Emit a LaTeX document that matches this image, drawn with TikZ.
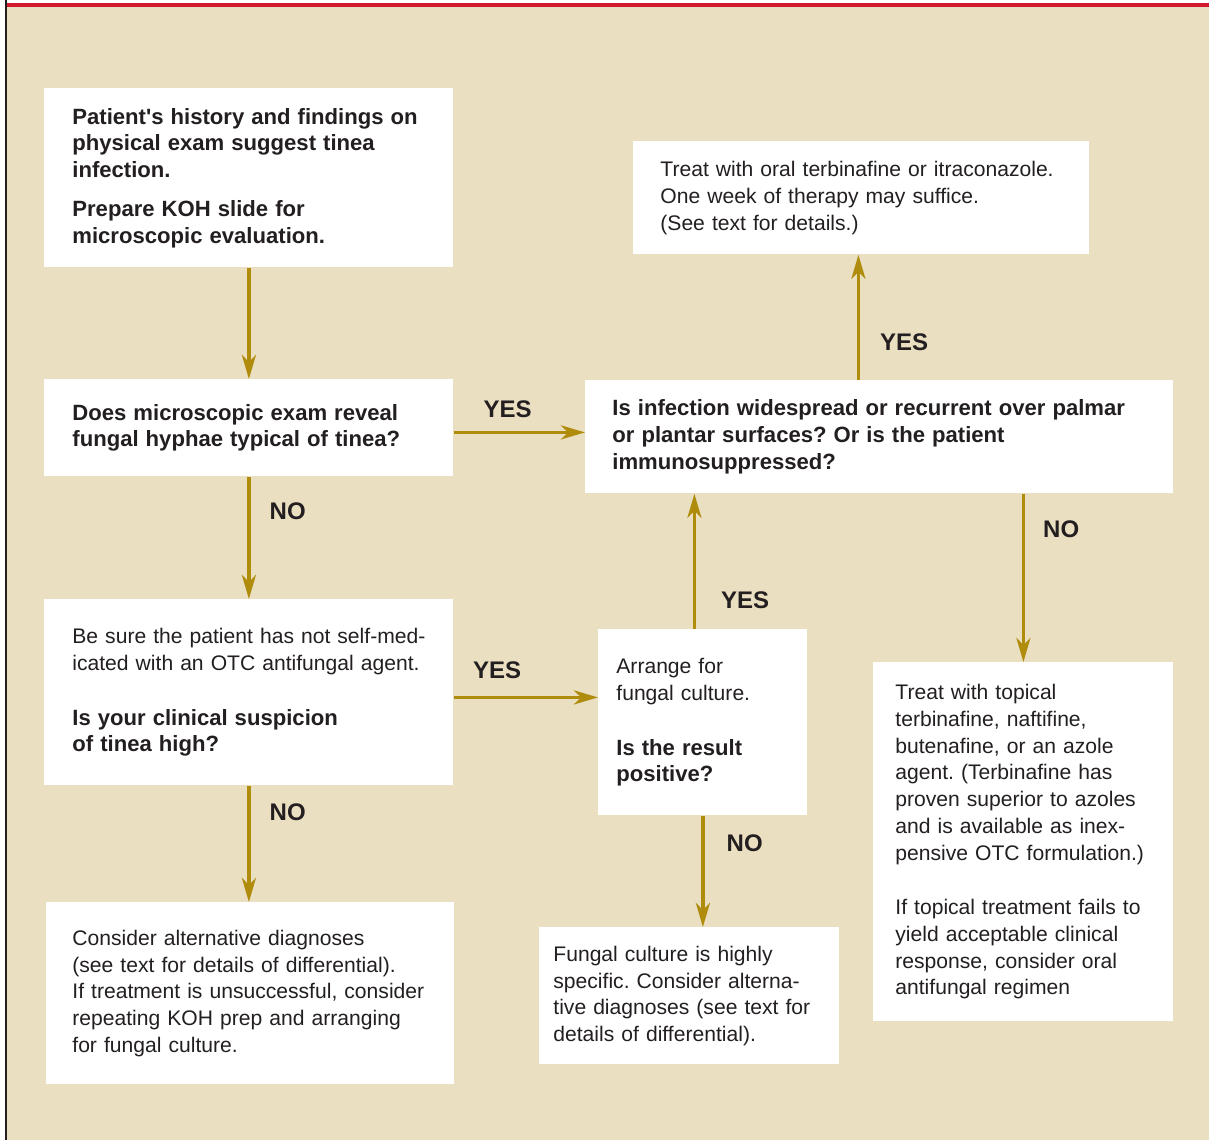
\documentclass[tikz,border=0pt]{standalone}
\usepackage{fontspec}
\setmainfont{Liberation Sans}
\usepackage{xcolor}
\usetikzlibrary{positioning, arrows.meta, calc}

\definecolor{paper}{HTML}{EBDFC2}
\definecolor{gold}{HTML}{AF8C0C}
\definecolor{rulered}{HTML}{D2192F}
\definecolor{ink}{HTML}{231F20}

\newcommand{\askfont}{\fontsize{11.05}{13.35}\selectfont\bfseries}
\frenchspacing

\begin{document}
\begin{tikzpicture}[
  x=0.5pt, y=-0.5pt,
  every node/.style={font=\fontsize{10.55}{13.35}\selectfont, text=ink},
  box/.style={fill=white, anchor=north west, inner sep=0pt, align=left},
  pad/.style={execute at begin node={\leftskip=#1}},
  arrow/.style={-{Stealth[length=12pt, width=7pt, inset=3.5pt]}, line width=1.8pt, draw=gold},
  ans/.style={font=\fontsize{12}{14}\selectfont\bfseries, inner sep=0pt}
]

% Page frame
\useasboundingbox (0,0) rectangle (1209,1140);
\fill[white] (0,0) rectangle (1209,1140);
\fill[paper] (7,7) rectangle (1209,1140);
\fill[rulered] (5,3) rectangle (1209,7);
\fill[ink] (5,0) rectangle (7,1140);

% Left column
\node[box, pad=14pt, text width=204.5pt, minimum height=89.5pt] (hist) at (44,88)
   {\askfont Patient\textquotesingle s history and findings on\\
    physical exam suggest tinea\\infection.\\[6.2pt]
    Prepare KOH slide for\\microscopic evaluation.};
\node[box, pad=14pt, text width=204.5pt, minimum height=48.5pt] (koh) at (44,379)
   {\askfont Does microscopic exam reveal\\fungal hyphae typical of tinea?};
\node[box, pad=14pt, text width=204.5pt, minimum height=93pt] (otc) at (44,599)
   {Be sure the patient has not self-med-\\icated with an OTC antifungal agent.\\[14pt]
    {\askfont Is your clinical suspicion\\of tinea high?}};
\node[box, pad=13pt, text width=204pt, minimum height=91pt] (alt) at (46,902)
   {Consider alternative diagnoses\\(see text for details of differential).\\
    If treatment is unsuccessful, consider\\repeating KOH prep and arranging\\for fungal culture.};

% Middle column
\node[box, pad=9pt, text width=104.5pt, minimum height=93pt] (culture) at (598,629)
   {Arrange for\\fungal culture.\\[14pt]
    {\askfont Is the result\\positive?}};
\node[box, pad=7pt, text width=150pt, minimum height=68.5pt] (specific) at (539,927)
   {Fungal culture is highly\\specific. Consider alterna-\\tive diagnoses (see text for\\details of differential).};

% Right side
\node[box, pad=13.5pt, text width=228pt, minimum height=56.5pt] (oral) at (633,141)
   {Treat with oral terbinafine or itraconazole.\\One week of therapy may suffice.\\(See text for details.)};
\node[box, pad=13.5pt, text width=294pt, minimum height=56.5pt] (spread) at (585,380)
   {\askfont Is infection widespread or recurrent over palmar\\
    or plantar surfaces? Or is the patient\\immunosuppressed?};
\node[box, pad=11pt, text width=150pt, minimum height=179.5pt] (topical) at (873,662)
   {Treat with topical\\terbinafine, naftifine,\\butenafine, or an azole\\agent. (Terbinafine has\\
    proven superior to azoles\\and is available as inex-\\pensive OTC formulation.)\\[14pt]
    If topical treatment fails to\\yield acceptable clinical\\response, consider oral\\antifungal regimen};

% Connectors
\draw[arrow] (hist) -- (koh);
\draw[arrow] (koh) -- (otc) node[ans, pos=0.28, anchor=west, xshift=9.5pt] {NO};
\draw[arrow] (otc.south) -- (otc.south |- alt.north)
   node[ans, pos=0.225, anchor=west, xshift=9.5pt] {NO};
\draw[arrow] ([yshift=-2.25pt]koh.east) -- ([yshift=-2.25pt]koh.east -| spread.west)
   node[ans, pos=0.41, anchor=base, yshift=7.5pt] {YES};
\draw[arrow] ([yshift=-2.5pt]otc.east) -- ([yshift=-2.5pt]otc.east -| culture.west)
   node[ans, pos=0.3, anchor=base, yshift=9.5pt] {YES};
\draw[arrow] ([xshift=-4.25pt]culture.north) -- ([xshift=-4.25pt]culture.north |- spread.south)
   node[ans, pos=0.21, anchor=west, xshift=12.5pt] {YES};
\draw[arrow] (culture.south) -- (culture.south |- specific.north)
   node[ans, pos=0.245, anchor=west, xshift=11pt] {NO};
\draw[arrow] ([xshift=-1.5pt]oral.south |- spread.north) -- ([xshift=-1.5pt]oral.south)
   node[ans, pos=0.3, anchor=west, xshift=10pt] {YES};
\draw[arrow] (topical.north |- spread.south) -- (topical.north)
   node[ans, pos=0.21, anchor=west, xshift=9pt] {NO};

\end{tikzpicture}
\end{document}
